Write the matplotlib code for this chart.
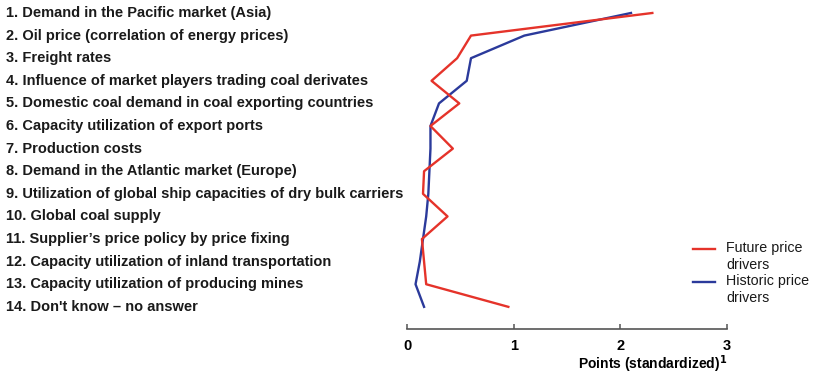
import matplotlib
matplotlib.use("Agg")
import matplotlib.pyplot as plt
from matplotlib.transforms import blended_transform_factory
from matplotlib.lines import Line2D

plt.rcParams['font.family'] = ['Liberation Sans', 'DejaVu Sans']

drivers = [
    "1. Demand in the Pacific market (Asia)",
    "2. Oil price (correlation of energy prices)",
    "3. Freight rates",
    "4. Influence of market players trading coal derivates",
    "5. Domestic coal demand in coal exporting countries",
    "6. Capacity utilization of export ports",
    "7. Production costs",
    "8. Demand in the Atlantic market (Europe)",
    "9. Utilization of global ship capacities of dry bulk carriers",
    "10. Global coal supply",
    "11. Supplier\u2019s price policy by price fixing",
    "12. Capacity utilization of inland transportation",
    "13. Capacity utilization of producing mines",
    "14. Don't know \u2013 no answer",
]
future = [2.30, 0.60, 0.47, 0.23, 0.49, 0.22, 0.43, 0.16, 0.15, 0.38, 0.14, 0.16, 0.18, 0.95]
historic = [2.10, 1.10, 0.60, 0.56, 0.30, 0.22, 0.22, 0.21, 0.20, 0.18, 0.15, 0.12, 0.08, 0.16]
x_ticks = [0, 1, 2, 3]
series_labels = ["Future price\ndrivers", "Historic price\ndrivers"]

RED = "#E5332A"
BLUE = "#2B3A9B"

W, H = 813, 378
fig = plt.figure(figsize=(W / 100, H / 100), dpi=100)
ax = fig.add_axes([407 / W, 1 - 329 / H, 320 / W, 328 / H])

rows = list(range(1, len(drivers) + 1))
ax.plot(future, rows, color=RED, lw=1.7, clip_on=False, zorder=3)
ax.plot(historic, rows, color=BLUE, lw=1.7, clip_on=False, zorder=2)

ax.set_xlim(0, 3)
ax.set_ylim(14.98, 0.47)

for s in ("top", "right", "left"):
    ax.spines[s].set_visible(False)
ax.spines["bottom"].set_color("#555555")
ax.spines["bottom"].set_linewidth(1.2)
ax.set_yticks([])
ax.set_xticks(x_ticks)
ax.set_xticklabels([str(t) for t in x_ticks], fontsize=10.5, fontweight="bold")
ax.tick_params(axis="x", direction="in", length=3.5, width=1.1, color="#555555", pad=7)

ax.text(1.0, -0.075, r"Points (standardized)$^{\mathbf{1}}$", transform=ax.transAxes,
        ha="right", va="top", fontsize=10, fontweight="bold")

tr = blended_transform_factory(fig.transFigure, ax.transData)
for r, lab in zip(rows, drivers):
    ax.text(6 / W, r, lab, transform=tr, ha="left", va="center",
            fontsize=10.5, fontweight="bold", color="#1a1a1a")

# Legend: key line aligned with the first line of each two-line label
for color, label, y_px in zip([RED, BLUE], series_labels, [249, 282]):
    fig.add_artist(Line2D([693 / W, 715 / W], [1 - y_px / H, 1 - y_px / H],
                          color=color, lw=1.7, transform=fig.transFigure))
    fig.text(726 / W, 1 - (y_px - 8) / H, label, ha="left", va="top",
             fontsize=10.3, linespacing=1.28, color="#1a1a1a")

fig.savefig("out.png", dpi=100)
